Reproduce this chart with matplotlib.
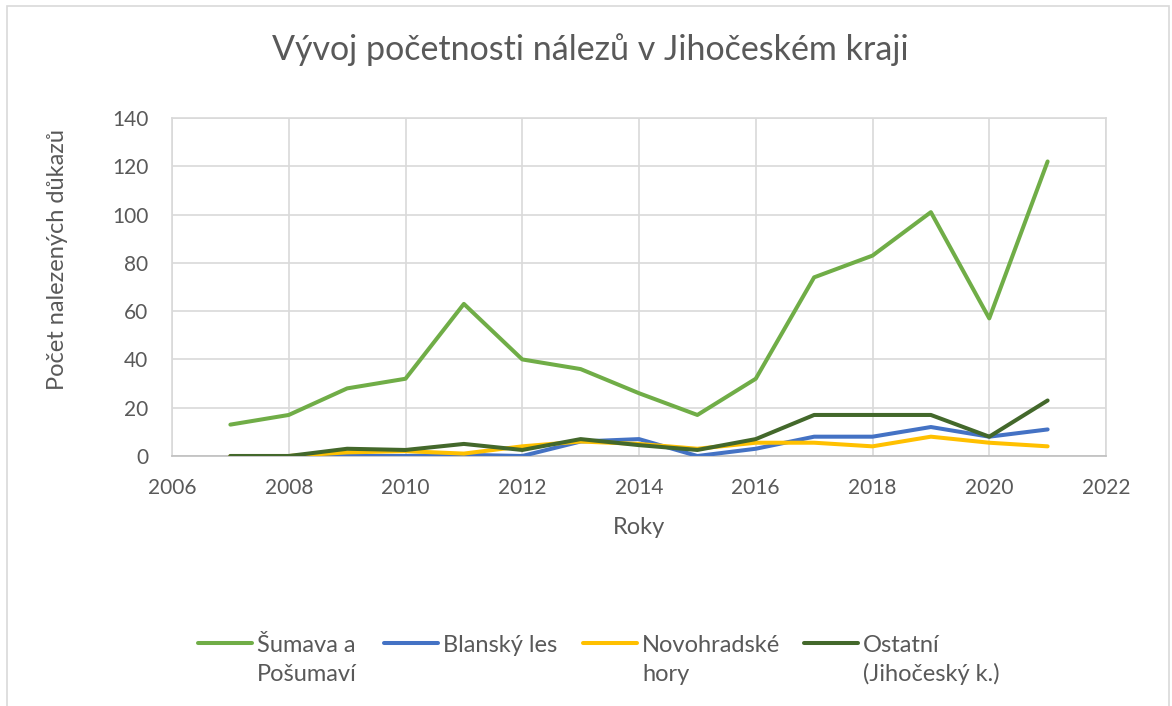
import matplotlib
matplotlib.use("Agg")
import matplotlib.pyplot as plt
from matplotlib.lines import Line2D
from matplotlib.patches import Rectangle

# ---- data ----
years = [2007, 2008, 2009, 2010, 2011, 2012, 2013, 2014, 2015, 2016, 2017, 2018, 2019, 2020, 2021]
sumava = [13, 17, 28, 32, 63, 40, 36, 26, 17, 32, 74, 83, 101, 57, 122]
blansky = [0, 0, 0, 0, 0.5, 0, 6, 7, 0, 3, 8, 8, 12, 8, 11]
novohrad = [0, 0, 1.5, 2, 1, 4, 6, 5, 3, 5.5, 5.5, 4, 8, 5.5, 4]
ostatni = [0, 0, 3, 2.5, 5, 2.5, 7, 4.5, 2.5, 7, 17, 17, 17, 8, 23]

series_names = ["Šumava a\nPošumaví", "Blanský les", "Novohradské\nhory", "Ostatní\n(Jihočeský k.)"]
series_colors = ["#70AD47", "#4472C4", "#FFC000", "#43682B"]
x_ticks = [2006, 2008, 2010, 2012, 2014, 2016, 2018, 2020, 2022]
y_ticks = [0, 20, 40, 60, 80, 100, 120, 140]

title = "Vývoj početnosti nálezů v Jihočeském kraji"
x_title = "Roky"
y_title = "Počet nalezených důkazů"

# ---- style ----
plt.rcParams['font.family'] = ['Lato', 'DejaVu Sans']
TXT = "#595959"
GRID = "#D9D9D9"

W, H = 1172, 706
fig = plt.figure(figsize=(W / 100, H / 100), dpi=100)
fig.patch.set_facecolor("white")

# outer chart border
fig.add_artist(Rectangle((7 / W, -0.01), (1169 - 7) / W, 1 - 6 / H + 0.01,
                         transform=fig.transFigure, fill=False,
                         edgecolor=GRID, linewidth=1.2))

left, right, top, bottom = 172, 1106, 118, 456
ax = fig.add_axes([left / W, 1 - bottom / H, (right - left) / W, (bottom - top) / H])

all_series = [sumava, blansky, novohrad, ostatni]
lines = []
for vals, name, col in zip(all_series, series_names, series_colors):
    ln, = ax.plot(years, vals, color=col, linewidth=2.9, label=name,
                  solid_capstyle='round', solid_joinstyle='round', zorder=3)
    lines.append(ln)

ax.set_xlim(x_ticks[0], x_ticks[-1])
ax.set_ylim(y_ticks[0], y_ticks[-1])
ax.set_xticks(x_ticks)
ax.set_yticks(y_ticks)
ax.grid(True, color=GRID, linewidth=1.2, zorder=0)
ax.set_axisbelow(True)
for s in ["left", "top", "right"]:
    ax.spines[s].set_color(GRID)
    ax.spines[s].set_linewidth(1.2)
ax.spines["bottom"].set_color("#BFBFBF")
ax.spines["bottom"].set_linewidth(1.2)
ax.tick_params(axis='both', length=0, labelsize=15, labelcolor=TXT)
ax.tick_params(axis='x', pad=16)
ax.tick_params(axis='y', pad=17)

ax.set_xlabel(x_title, fontsize=17, color=TXT, va='center')
ax.xaxis.set_label_coords(0.5, (bottom - 527) / (bottom - top))
ax.set_ylabel(y_title, fontsize=17, color=TXT, va='center')
ax.yaxis.set_label_coords((57 - left) / (right - left), (bottom - 260) / (bottom - top))

fig.text(590 / W, 1 - 50 / H, title, fontsize=24.5, color=TXT, ha='center', va='center')

# legend entries: handle aligned with first text line, as in the original
legend_line_x = [198, 384, 583, 804]
handle_len = 54
text_gap = 5
legend_y = 643
first_baseline = 652
line_step = 29
for ln, name, lx in zip(lines, series_names, legend_line_x):
    fig.add_artist(Line2D([lx / W, (lx + handle_len) / W], [1 - legend_y / H] * 2,
                          transform=fig.transFigure, color=ln.get_color(),
                          linewidth=2.9, solid_capstyle='round'))
    for i, part in enumerate(name.split("\n")):
        fig.text((lx + handle_len + text_gap) / W, 1 - (first_baseline + i * line_step) / H,
                 part, fontsize=17, color=TXT, ha='left', va='baseline')

fig.savefig("out.png", dpi=100)
